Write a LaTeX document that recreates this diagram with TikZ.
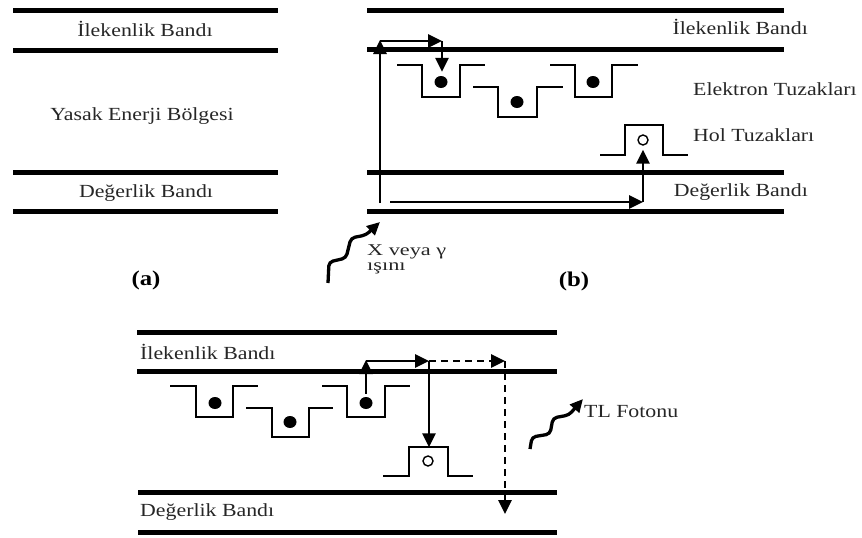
\documentclass[tikz,border=0pt]{standalone}
\usepackage{fontspec}
\setmainfont{Liberation Serif}[FakeStretch=1.18]
\newfontfamily\rayfont{Liberation Serif}[FakeStretch=1.35]
\usetikzlibrary{arrows.meta, shapes.geometric}

\begin{document}
\begin{tikzpicture}[x=1pt, y=-1pt,
    band/.style={line width=5pt},
    trap/.style={line width=1.4pt},
    arr/.style={line width=2.8pt, -{Triangle[length=14pt, width=13pt]}},
    darr/.style={arr, dash pattern=on 7pt off 5pt},
    wave/.style={line width=3.3pt, rounded corners=4pt, -{Triangle[length=13pt, width=12pt]}},
    lbl/.style={font=\fontsize{18.5}{22}\selectfont, text=black!85, inner sep=0pt},
    ray/.style={font=\rayfont\fontsize{16.5}{15}\selectfont, text=black!85, inner sep=0pt, align=left},
    tag/.style={font=\fontsize{21}{24}\selectfont\bfseries, inner sep=0pt},
    edot/.style={ellipse, fill, inner sep=0pt, minimum width=13pt, minimum height=12pt},
    hdot/.style={circle, draw, line width=1.4pt, inner sep=0pt, minimum size=10pt}]

\useasboundingbox (0,0) rectangle (862,538);

% ---------------- (a) ----------------
        \draw[band] (13,10) -- (278,10);
        \draw[band] (13,50) -- (278,50);
        \draw[band] (13,172) -- (278,172);
        \draw[band] (13,211) -- (278,211);

        \node[lbl] (aCB) at (145,29) {İlekenlik Bandı};
        \node[lbl] (aGap) at (142,116) {Yasak Enerji Bölgesi};
        \node[lbl] (aVB) at (146,193) {Değerlik Bandı};
        \node[tag] (aTag) at (146,280) {(a)};

% ---------------- (b) ----------------
        \draw[band] (367,10) -- (784,10);
        \draw[band] (367,49) -- (784,49);
        \draw[band] (367,172) -- (784,172);
        \draw[band] (367,211) -- (784,211);

        % electrons and hole
        \node[edot] (bE1) at (441,82) {};
        \node[edot] (bE2) at (517,102) {};
        \node[edot] (bE3) at (593,82) {};
        \node[hdot] (bH1) at (643,140) {};

        % electron traps
        \draw[trap] (bE1) ++(-44,-17) -- ++(25,0) -- ++(0,32) -- ++(38,0) -- ++(0,-32) -- ++(25,0);
        \draw[trap] (bE2) ++(-44,-15) -- ++(25,0) -- ++(0,30) -- ++(39,0) -- ++(0,-30) -- ++(26,0);
        \draw[trap] (bE3) ++(-43,-17) -- ++(25,0) -- ++(0,32) -- ++(37,0) -- ++(0,-32) -- ++(26,0);
        % hole trap
        \draw[trap] (bH1) ++(-43,15) -- ++(25,0) -- ++(0,-30) -- ++(38,0) -- ++(0,30) -- ++(25,0);

        % excitation path
        \coordinate (bV0) at (380,203);      % bottom of ray path
        \coordinate (bV1) at (380,40);       % top of ray path
        \coordinate (bV2) at (442,41);       % above first trap
        \coordinate (bW0) at (390,202);      % hole start
        \coordinate (bW1) at (643,202);      % below hole trap

        \draw[arr] (bV0) -- (bV1);
        \draw[arr] (bV1 |- bV2) -- (bV2);
        \draw[arr, shorten >=4pt] (bV2) -- (bE1.north -| bV2);
        \draw[arr] (bW0) -- (bW1);
        \draw[arr, shorten >=4pt] (bW1) -- (bH1.south);

        % incoming ray
        \coordinate (bR0) at (328,283);
        \coordinate (bR1) at (380,222);
        \draw[wave] (bR0) -- (329,262) -- (346,258) -- (351,238) -- (366,235) -- (bR1);

        \node[lbl, anchor=east] (bCB) at (808,27) {İlekenlik Bandı};
        \node[lbl, anchor=west] (bET) at (693,89) {Elektron Tuzakları};
        \node[lbl, anchor=west] (bHT) at (693,135) {Hol Tuzakları};
        \node[lbl, anchor=east] (bVB) at (808,192) {Değerlik Bandı};
        \node[ray, anchor=west] (bRay) at (367,259) {X veya γ\\ışını};
        \node[tag] (bTag) at (574,281) {(b)};

% ---------------- (c) ----------------
        \draw[band] (137,332) -- (557,332);
        \draw[band] (137,371) -- (557,371);
        \draw[band] (138,492) -- (557,492);
        \draw[band] (138,532) -- (557,532);

        % electrons and hole
        \node[edot] (cE1) at (215,403) {};
        \node[edot] (cE2) at (290,422) {};
        \node[edot] (cE3) at (366,403) {};
        \node[hdot] (cH1) at (428,461) {};

        % electron traps
        \draw[trap] (cE1) ++(-45,-17) -- ++(26,0) -- ++(0,31) -- ++(37,0) -- ++(0,-31) -- ++(25,0);
        \draw[trap] (cE2) ++(-44,-14) -- ++(26,0) -- ++(0,29) -- ++(37,0) -- ++(0,-29) -- ++(24,0);
        \draw[trap] (cE3) ++(-44,-17) -- ++(25,0) -- ++(0,31) -- ++(38,0) -- ++(0,-31) -- ++(25,0);
        % hole trap
        \draw[trap] (cH1) ++(-45,15) -- ++(26,0) -- ++(0,-29) -- ++(39,0) -- ++(0,29) -- ++(25,0);

        % release and recombination
        \coordinate (cU1) at (366,360);      % top of release
        \coordinate (cU2) at (429,361);      % above hole trap
        \coordinate (cU3) at (505,361);      % end of dashed path
        \coordinate (cU4) at (505,514);      % into valence band

        \draw[arr, shorten <=3pt] (cE3.north) -- (cU1);
        \draw[arr] (cU1 |- cU2) -- (cU2);
        \draw[arr, shorten >=8pt] (cU2) -- (cH1.north -| cU2);
        \draw[darr] (cU2) -- (cU3);
        \draw[darr] (cU3) -- (cU4);

        % emitted photon
        \coordinate (cP0) at (530,449);
        \coordinate (cP1) at (583,399);
        \draw[wave] (cP0) -- (532,437) -- (550,434) -- (553,418) -- (569,415) -- (cP1);

        \node[lbl, anchor=west] (cCB) at (140,352) {İlekenlik Bandı};
        \node[lbl, anchor=west] (cVB) at (140,512) {Değerlik Bandı};
        \node[lbl, anchor=west] (cTL) at (584,412) {TL Fotonu};
\end{tikzpicture}
\end{document}
